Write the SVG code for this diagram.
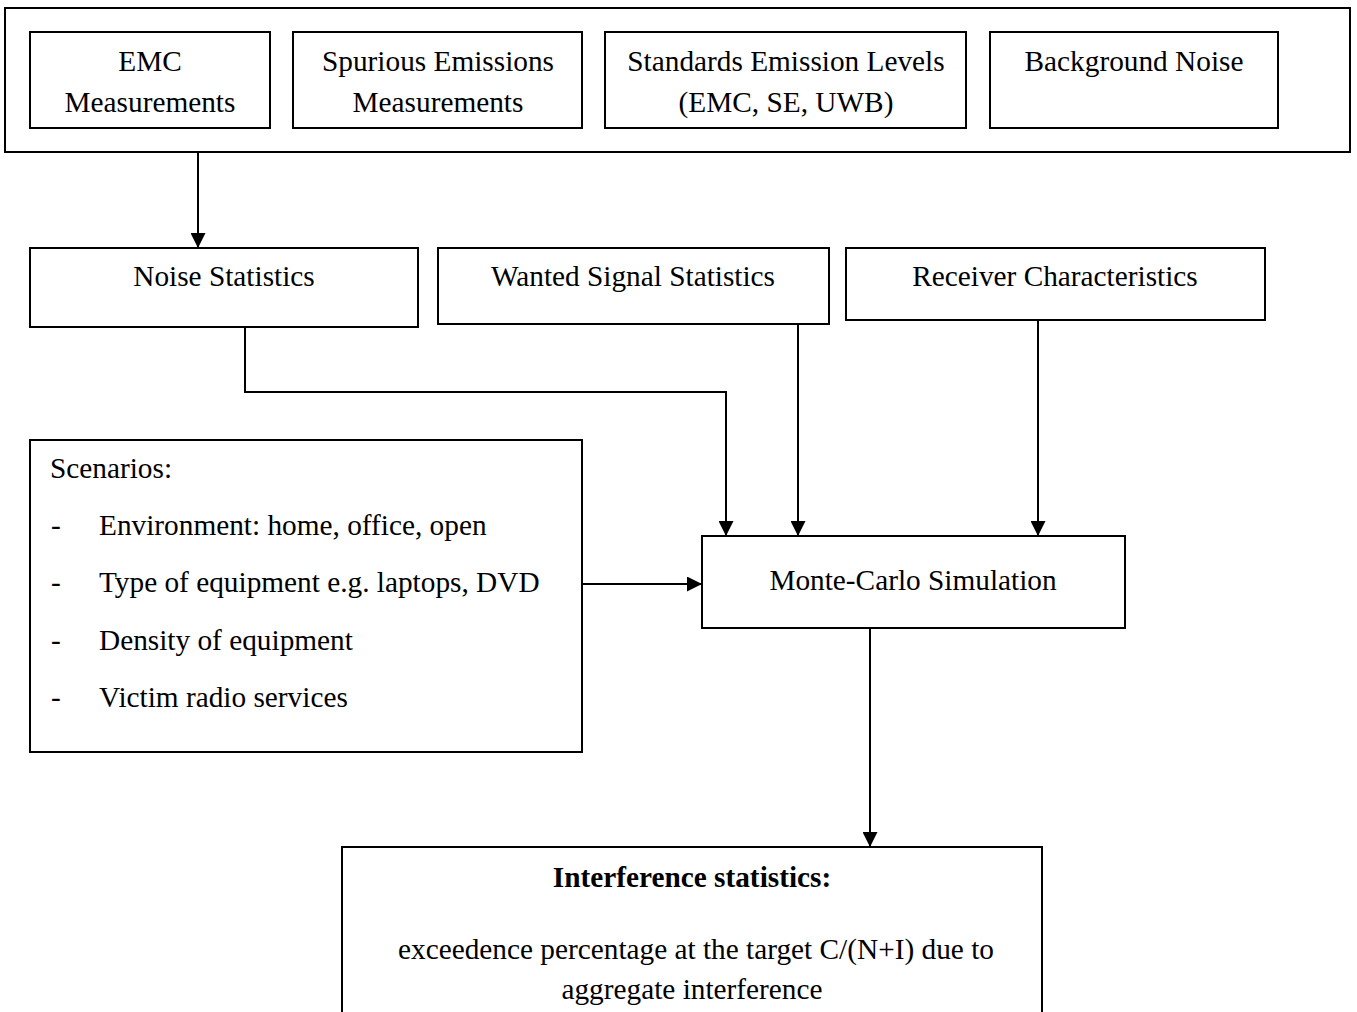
<svg xmlns="http://www.w3.org/2000/svg" width="1357" height="1012" viewBox="0 0 1357 1012">
<style>
.box{fill:#fff;stroke:#000;stroke-width:2}
.t{font-family:"Liberation Serif","Times New Roman",serif;font-size:29.3px;fill:#000}
.c{text-anchor:middle}
.b{font-weight:bold}
.ln{fill:none;stroke:#000;stroke-width:2}
</style>
<defs>
<marker id="ah" viewBox="0 0 15 15" refX="15" refY="7.5" markerWidth="15" markerHeight="15" markerUnits="userSpaceOnUse" orient="auto">
<path d="M0,0 L15,7.5 L0,15 Z" fill="#000"/>
</marker>
</defs>
<rect width="1357" height="1012" fill="#fff"/>
<g id="inputs">
<rect class="box" x="5" y="8" width="1345" height="144"/>
</g>
<g id="emc">
<rect class="box" x="30" y="32" width="240" height="96"/>
<text class="t c" x="150" y="71">EMC</text>
<text class="t c" x="150" y="112">Measurements</text>
</g>
<g id="spurious">
<rect class="box" x="293" y="32" width="289" height="96"/>
<text class="t c" x="438" y="71">Spurious Emissions</text>
<text class="t c" x="438" y="112">Measurements</text>
</g>
<g id="standards">
<rect class="box" x="605" y="32" width="361" height="96"/>
<text class="t c" x="786" y="71">Standards Emission Levels</text>
<text class="t c" x="786" y="112">(EMC, SE, UWB)</text>
</g>
<g id="background">
<rect class="box" x="990" y="32" width="288" height="96"/>
<text class="t c" x="1134" y="71">Background Noise</text>
</g>
<g id="noise">
<rect class="box" x="30" y="248" width="388" height="79"/>
<text class="t c" x="224" y="286">Noise Statistics</text>
</g>
<g id="wanted">
<rect class="box" x="438" y="248" width="391" height="76"/>
<text class="t c" x="633" y="286">Wanted Signal Statistics</text>
</g>
<g id="receiver">
<rect class="box" x="846" y="248" width="419" height="72"/>
<text class="t c" x="1055" y="286">Receiver Characteristics</text>
</g>
<g id="scenarios">
<rect class="box" x="30" y="440" width="552" height="312"/>
<text class="t" x="50" y="478">Scenarios:</text>
<text class="t" x="51" y="535">-</text><text class="t" x="99" y="535">Environment: home, office, open</text>
<text class="t" x="51" y="592">-</text><text class="t" x="99" y="592">Type of equipment e.g. laptops, DVD</text>
<text class="t" x="51" y="650">-</text><text class="t" x="99" y="650">Density of equipment</text>
<text class="t" x="51" y="707">-</text><text class="t" x="99" y="707">Victim radio services</text>
</g>
<g id="montecarlo">
<rect class="box" x="702" y="536" width="423" height="92"/>
<text class="t c" x="913" y="590">Monte-Carlo Simulation</text>
</g>
<g id="interference">
<rect class="box" x="342" y="847" width="700" height="180"/>
<text class="t c b" x="692" y="887">Interference statistics:</text>
<text class="t c" x="696" y="959">exceedence percentage at the target C/(N+I) due to</text>
<text class="t c" x="692" y="999">aggregate interference</text>
</g>
<g id="connectors">
<path class="ln" d="M198,152 V248" marker-end="url(#ah)"/>
<path class="ln" d="M245,327 V392 H726 V536" marker-end="url(#ah)"/>
<path class="ln" d="M798,324 V536" marker-end="url(#ah)"/>
<path class="ln" d="M1038,320 V536" marker-end="url(#ah)"/>
<path class="ln" d="M582,584 H702" marker-end="url(#ah)"/>
<path class="ln" d="M870,628 V847" marker-end="url(#ah)"/>
</g>
</svg>
